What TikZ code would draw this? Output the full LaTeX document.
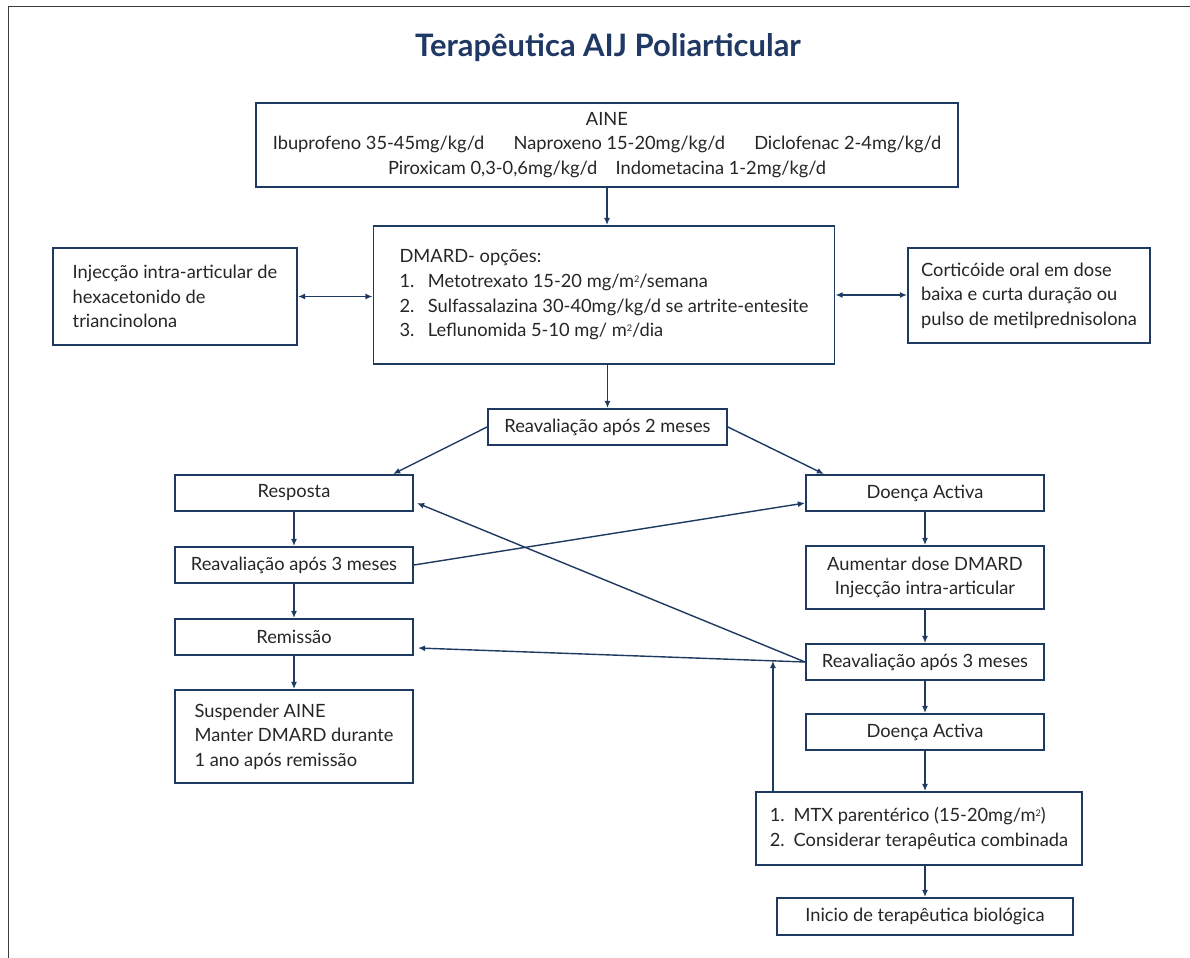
\documentclass[tikz,border=0pt]{standalone}
\usepackage{fontspec}
\setmainfont{Lato}
\usetikzlibrary{arrows.meta,calc}
\definecolor{navy}{HTML}{1F3A60}
\definecolor{titleblue}{HTML}{1F3864}
\definecolor{txt}{HTML}{262626}
\definecolor{framegray}{HTML}{3C3C3C}
\newcommand{\sqr}{\raisebox{0.55ex}{\fontsize{6.5}{6.5}\selectfont 2}}

\begin{document}
\begin{tikzpicture}[x=0.025cm,y=-0.025cm,
  box/.style={draw=navy,line width=1.3pt,fill=white,inner sep=0pt,text=txt,
    font=\fontsize{13}{17.5}\selectfont,align=center},
  lbox/.style={box,align=left},
  rowbox/.style={box,minimum width=5.95cm,minimum height=0.9cm},
  link/.style={draw=navy,line width=1pt,-{Latex[length=1.8mm,width=1.5mm]}},
  twoway/.style={link,{Latex[length=1.8mm,width=1.5mm]}-{Latex[length=1.8mm,width=1.5mm]}}]
\useasboundingbox (0,0) rectangle (1190,958);
\draw[framegray,line width=1.4pt] (8.5,958) -- (8.5,6.5) -- (1190,6.5);

\node (title) at (608,48) [text=titleblue,font=\fontsize{22}{26}\selectfont\bfseries]
  {Terapêutica AIJ Poliarticular};

% top of the scheme
\node (aine) at (607,145) [box,minimum width=17.55cm,minimum height=2.1cm]
  {AINE\\
   Ibuprofeno 35-45mg/kg/d\hspace{1.6em}Naproxeno 15-20mg/kg/d\hspace{1.6em}Diclofenac 2-4mg/kg/d\\
   Piroxicam 0,3-0,6mg/kg/d\hspace{1em}Indometacina 1-2mg/kg/d};
\node (dmard) at (604,295) [lbox,minimum width=11.525cm,minimum height=3.45cm]
  {DMARD- opções:\\
   \makebox[1.55em][l]{1.}Metotrexato 15-20 mg/m\sqr/semana\\
   \makebox[1.55em][l]{2.}Sulfassalazina 30-40mg/kg/d se artrite-entesite\\
   \makebox[1.55em][l]{3.}Leflunomida 5-10 mg/ m\sqr/dia};
\node (inject) at (175,296.5) [lbox,minimum width=6.1cm,minimum height=2.425cm]
  {Injecção intra-articular de\\ hexacetonido de\\ triancinolona};
\node (cortic) at (1029,295.5) [lbox,minimum width=6.05cm,minimum height=2.375cm]
  {Corticóide oral em dose\\ baixa e curta duração ou\\ pulso de metilprednisolona};
\node (r2) at (607.5,427) [box,minimum width=5.975cm,minimum height=0.9cm]
  {Reavaliação após 2 meses};

% response branch
\node (resp) at (294,493) [rowbox] {Resposta};
\node (r3l) at (294,565) [rowbox] {Reavaliação após 3 meses};
\node (rem) at (294,637) [rowbox] {Remissão};
\node (stop) at (294,736.5) [lbox,minimum width=5.95cm,minimum height=2.325cm]
  {Suspender AINE\\ Manter DMARD durante\\ 1 ano após remissão};

% active disease branch
\node (da1) at (925,493) [rowbox] {Doença Activa};
\node (raise) at (925,577.5) [box,minimum width=5.95cm,minimum height=1.575cm]
  {Aumentar dose DMARD\\ Injecção intra-articular};
\node (r3r) at (925,662) [rowbox] {Reavaliação após 3 meses};
\node (da2) at (925,732) [rowbox] {Doença Activa};
\node (mtx) at (919,828.5) [lbox,minimum width=8.15cm,minimum height=1.825cm]
  {\makebox[1.3em][l]{1.}MTX parentérico (15-20mg/m\sqr)\\
   \makebox[1.3em][l]{2.}Considerar terapêutica combinada};
\node (bio) at (925,916.5) [box,minimum width=7.4cm,minimum height=0.925cm]
  {Inicio de terapêutica biológica};

\draw[link] (aine.south) -- (aine.south |- dmard.north);
\draw[twoway] (inject.east) -- (inject.east -| dmard.west);
\draw[twoway] (dmard.east) -- (dmard.east -| cortic.west);
\draw[link] (r2.north |- dmard.south) -- (r2.north);
\draw[link] (r2.west) -- ($(resp.north)+(99,0)$);
\draw[link] (r2.east) -- ($(da1.north)+(-101,0)$);

\draw[link] (resp) -- (r3l);
\draw[link] (r3l) -- (rem);
\draw[link] (rem) -- (stop);
\draw[link] (r3l.east) -- ($(da1.west)+(0,10)$);

\draw[link] (da1) -- (raise);
\draw[link] (raise) -- (r3r);
\draw[link] (r3r) -- (da2);
\draw[link] (da2.south) -- (da2.south |- mtx.north);
\draw[link] (bio.north |- mtx.south) -- (bio.north);

\draw[link] (r3r.west) -- ($(resp.east)+(3,10)$);
\coordinate (remin) at ($(rem.east)+(4,11)$);
\draw[link] (r3r.west) -- (remin);
\coordinate (joint) at ($(r3r.west)!0.083!(remin)$);
\draw[link] (mtx.north -| joint) -- (joint);
\end{tikzpicture}
\end{document}
